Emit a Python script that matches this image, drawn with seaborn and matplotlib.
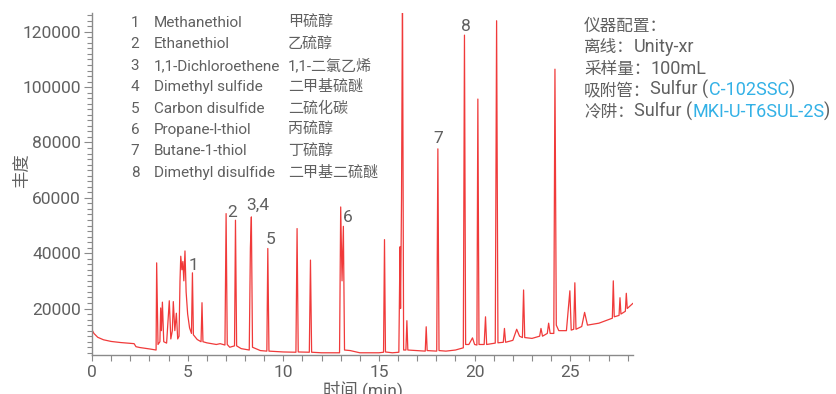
import matplotlib
matplotlib.use("Agg")
import matplotlib.pyplot as plt
import seaborn as sns
import pandas as pd
from matplotlib.ticker import MultipleLocator

# ---------------- data ----------------
TIME_MIN = [
    0.0, 0.1, 0.3, 0.6, 1.0, 1.5, 2.0, 2.2, 2.3, 2.5, 3.0, 3.33,
    3.35, 3.38, 3.45, 3.55, 3.59, 3.63, 3.68, 3.75, 3.9, 4.04, 4.12, 4.2,
    4.25, 4.33, 4.41, 4.48, 4.55, 4.6, 4.64, 4.7, 4.75, 4.8, 4.86, 4.92,
    5.0, 5.1, 5.2, 5.25, 5.3, 5.5, 5.7, 5.75, 5.8, 6.0, 6.5, 6.7,
    6.95, 7.01, 7.07, 7.2, 7.45, 7.5, 7.56, 7.8, 8.22, 8.28, 8.33, 8.39,
    8.8, 9.14, 9.19, 9.25, 10.0, 10.66, 10.72, 10.78, 11.36, 11.42, 11.48, 12.0,
    12.94, 13.0, 13.07, 13.14, 13.2, 13.5, 14.0, 15.0, 15.24, 15.29, 15.34, 15.7,
    16.04, 16.1, 16.13, 16.18, 16.23, 16.29, 16.41, 16.46, 16.51, 17.0, 17.42, 17.47,
    17.52, 18.02, 18.08, 18.14, 18.5, 19.0, 19.41, 19.47, 19.53, 19.7, 19.89, 20.0,
    20.12, 20.17, 20.23, 20.5, 20.57, 20.63, 21.08, 21.15, 21.22, 21.5, 21.56, 21.62,
    22.0, 22.2, 22.35, 22.5, 22.56, 22.62, 23.0, 23.4, 23.47, 23.55, 23.8, 23.87,
    23.95, 24.14, 24.2, 24.27, 24.4, 24.8, 24.98, 25.05, 25.18, 25.24, 25.3, 25.6,
    25.75, 25.9, 26.5, 27.0, 27.2, 27.25, 27.3, 27.55, 27.6, 27.65, 27.88, 27.93,
    27.98, 28.28,
]
ABUNDANCE = [
    12300, 11000, 9600, 8700, 8100, 7700, 7400, 7300, 6200, 5900, 5400, 5000,
    5000, 36500, 7000, 8000, 20200, 12000, 22300, 8000, 7500, 22800, 9000, 12000,
    22500, 12000, 18300, 9000, 10000, 30000, 38900, 34000, 37000, 30000, 40800, 26000,
    18000, 13000, 11000, 32900, 10500, 8800, 8000, 22100, 8000, 7600, 7000, 7300,
    6800, 54300, 7000, 6000, 6500, 51900, 6500, 5500, 5000, 42000, 53100, 6000,
    4800, 4600, 41700, 4600, 4300, 4200, 48900, 4300, 4200, 37500, 4200, 4000,
    4000, 56700, 30000, 49700, 5000, 4800, 4000, 4000, 4200, 44900, 4300, 4000,
    4200, 42300, 20000, 60000, 135000, 5000, 5000, 15600, 5000, 4800, 4600, 13400,
    4800, 4600, 77700, 4800, 4600, 5000, 5800, 118800, 7000, 7000, 9400, 7000,
    6800, 95700, 7000, 7000, 17000, 7000, 7500, 124000, 7600, 7800, 12800, 7800,
    8500, 12500, 10000, 9500, 26700, 9500, 9200, 10000, 12800, 10000, 11000, 14700,
    11000, 11000, 106500, 14000, 12000, 12000, 26400, 12200, 12500, 29300, 12500, 13500,
    18600, 14000, 14700, 16000, 16500, 30000, 17000, 17500, 23900, 18000, 19000, 25500,
    20000, 21900,
]

PEAK_LABELS = ["1", "2", "3,4", "5", "6", "7", "8"]
PEAK_LABEL_TIME = [5.30, 7.35, 8.66, 9.34, 13.37, 18.10, 19.55]
PEAK_LABEL_ABUND = [35500, 54800, 57250, 44900, 52800, 81300, 122100]

LEGEND_NUM = ["1", "2", "3", "4", "5", "6", "7", "8"]
LEGEND_EN = ["Methanethiol", "Ethanethiol", "1,1-Dichloroethene", "Dimethyl sulfide",
             "Carbon disulfide", "Propane-l-thiol", "Butane-1-thiol", "Dimethyl disulfide"]
LEGEND_ZH = ["甲硫醇", "乙硫醇", "1,1-二氯乙烯", "二甲基硫醚",
             "二硫化碳", "丙硫醇", "丁硫醇", "二甲基二硫醚"]

# (text, colour, script) pieces of each configuration line
CONFIG_LINES = [
    [("仪器配置：", "grey", "zh")],
    [("离线：", "grey", "zh"), ("Unity-xr", "grey", "en")],
    [("采样量：", "grey", "zh"), ("100mL", "grey", "en")],
    [("吸附管：", "grey", "zh"), ("Sulfur (", "grey", "en"), ("C-102SSC", "blue", "en"),
     (")", "grey", "en")],
    [("冷阱：", "grey", "zh"), ("Sulfur (", "grey", "en"), ("MKI-U-T6SUL-2S", "blue", "en"),
     (")", "grey", "en")],
]

X_TICKS = [0, 5, 10, 15, 20, 25]
Y_TICKS = [20000, 40000, 60000, 80000, 100000, 120000]

# ---------------- style ----------------
sns.set_theme(style="ticks")
plt.rcParams["font.family"] = ["Roboto", "Noto Sans CJK SC", "DejaVu Sans"]

W, H = 836, 394
GREY = "#606060"
AXC = "#8a8a8a"
BLUE = "#33b1e6"
RED = "#f03a3a"

fig = plt.figure(figsize=(W / 100, H / 100), dpi=100)
ax = fig.add_axes([92 / W, 1 - 355 / H, (633 - 92) / W, (355 - 13) / H])

df = pd.DataFrame({"t": TIME_MIN, "a": ABUNDANCE})
sns.lineplot(data=df, x="t", y="a", ax=ax, color=RED, linewidth=0.9,
             estimator=None, sort=False)

ax.set_xlim(0, 28.28)
ax.set_ylim(3200, 126800)
ax.set_xticks(X_TICKS)
ax.set_yticks(Y_TICKS)
ax.xaxis.set_minor_locator(MultipleLocator(1))
ax.yaxis.set_minor_locator(MultipleLocator(2000))
ax.tick_params(axis="both", which="both", direction="out", color=AXC,
               labelcolor=GREY, labelsize=12.5, width=0.8)
ax.tick_params(axis="y", which="major", length=6, pad=2)
ax.tick_params(axis="y", which="minor", length=3.5)
ax.tick_params(axis="x", which="major", length=4.5, pad=3)
ax.tick_params(axis="x", which="minor", length=4)
for s in ["top", "right"]:
    ax.spines[s].set_visible(False)
for s in ["left", "bottom"]:
    ax.spines[s].set_color(AXC)
    ax.spines[s].set_linewidth(1.0)
ax.set_facecolor("none")

ax.set_xlabel("时间 (min)", fontsize=12.5, color=GREY)
ax.set_ylabel("丰度", fontsize=12.5, color=GREY)
ax.xaxis.set_label_coords(0.5, -0.075)
ax.yaxis.set_label_coords(-0.115, 0.54)

for lab, t, a in zip(PEAK_LABELS, PEAK_LABEL_TIME, PEAK_LABEL_ABUND):
    ax.text(t, a, lab, ha="center", va="center", fontsize=12.5, color=GREY)

# legend of compounds
row_y = [23.0, 44.4, 65.8, 87.2, 108.6, 130.0, 151.4, 172.8]
for yy, n, en, zh in zip(row_y, LEGEND_NUM, LEGEND_EN, LEGEND_ZH):
    fig.text(135 / W, 1 - yy / H, n, ha="center", va="center", fontsize=11, color=GREY)
    fig.text(154 / W, 1 - yy / H, en, ha="left", va="center", fontsize=11, color=GREY)
    fig.text(288 / W, 1 - yy / H, zh, ha="left", va="center", fontsize=10.8, color=GREY)

# instrument configuration text with coloured parts (shared baseline per line)
fig.canvas.draw()
renderer = fig.canvas.get_renderer()
cfg_baseline = [30.5, 52.0, 73.6, 95.2, 116.6]
for yy, parts in zip(cfg_baseline, CONFIG_LINES):
    x = 584
    for txt, col, script in parts:
        t = fig.text(x / W, 1 - yy / H, txt, ha="left", va="baseline",
                     fontsize=12 if script == "zh" else 13,
                     color=BLUE if col == "blue" else GREY)
        bb = t.get_window_extent(renderer)
        x = bb.x1

fig.savefig("out.png", dpi=100)
